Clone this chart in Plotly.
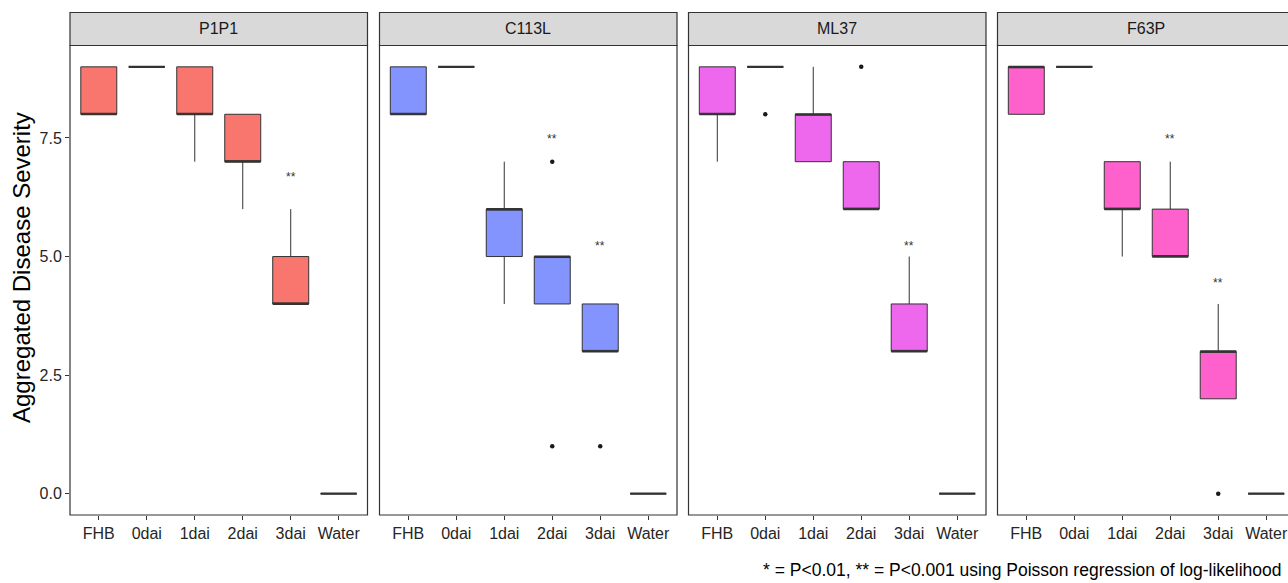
import plotly.graph_objects as go

# ---------------- data ----------------
groups = ["FHB", "0dai", "1dai", "2dai", "3dai", "Water"]
panels = ["P1P1", "C113L", "ML37", "F63P"]
colors = ["#F8766D", "#8494FF", "#ED68ED", "#FF61CC"]

p1p1_q1 = [8, 9, 8, 7, 4, 0]
p1p1_med = [8, 9, 8, 7, 4, 0]
p1p1_q3 = [9, 9, 9, 8, 5, 0]
p1p1_lo = [8, 9, 7, 6, 4, 0]
p1p1_hi = [9, 9, 9, 8, 6, 0]
p1p1_out_x = []
p1p1_out_y = []

c113l_q1 = [8, 9, 5, 4, 3, 0]
c113l_med = [8, 9, 6, 5, 3, 0]
c113l_q3 = [9, 9, 6, 5, 4, 0]
c113l_lo = [8, 9, 4, 4, 3, 0]
c113l_hi = [9, 9, 7, 5, 4, 0]
c113l_out_x = ["2dai", "2dai", "3dai"]
c113l_out_y = [7, 1, 1]

ml37_q1 = [8, 9, 7, 6, 3, 0]
ml37_med = [8, 9, 8, 6, 3, 0]
ml37_q3 = [9, 9, 8, 7, 4, 0]
ml37_lo = [7, 9, 7, 6, 3, 0]
ml37_hi = [9, 9, 9, 7, 5, 0]
ml37_out_x = ["0dai", "2dai"]
ml37_out_y = [8, 9]

f63p_q1 = [8, 9, 6, 5, 2, 0]
f63p_med = [9, 9, 6, 5, 3, 0]
f63p_q3 = [9, 9, 7, 6, 3, 0]
f63p_lo = [8, 9, 5, 5, 2, 0]
f63p_hi = [9, 9, 7, 7, 4, 0]
f63p_out_x = ["3dai"]
f63p_out_y = [0]

# significance labels (panel, group, y position)
sig_panel = ["P1P1", "C113L", "C113L", "ML37", "F63P", "F63P"]
sig_group = ["3dai", "2dai", "3dai", "3dai", "2dai", "3dai"]
sig_y = [6.68, 7.48, 5.23, 5.23, 7.48, 4.44]
sig_text = "**"

caption = "* = P<0.01, ** = P<0.001 using Poisson regression of log-likelihood"
y_title = "Aggregated Disease Severity"
y_ticks = [0, 2.5, 5, 7.5]
y_ticktext = ["0.0", "2.5", "5.0", "7.5"]

stats = [
    (p1p1_q1, p1p1_med, p1p1_q3, p1p1_lo, p1p1_hi, p1p1_out_x, p1p1_out_y),
    (c113l_q1, c113l_med, c113l_q3, c113l_lo, c113l_hi, c113l_out_x, c113l_out_y),
    (ml37_q1, ml37_med, ml37_q3, ml37_lo, ml37_hi, ml37_out_x, ml37_out_y),
    (f63p_q1, f63p_med, f63p_q3, f63p_lo, f63p_hi, f63p_out_x, f63p_out_y),
]

# ---------------- layout geometry ----------------
W, H = 1288, 583
panel_left = [70, 379.5, 688.5, 997.5]
panel_w = 297.5
top_px, bot_px = 45.5, 515
strip_top = 12.5
unit_px = panel_w / 6.2
yr = [-0.45, 9.45]

pos = {g: i + 1 for i, g in enumerate(groups)}

fig = go.Figure()
shapes = []
annotations = []
FONT = "Liberation Sans, Arial, sans-serif"
DARK = "#333333"

for k, name in enumerate(panels):
    q1, med, q3, lo, hi, ox, oy = stats[k]
    sfx = "" if k == 0 else str(k + 1)
    xa, ya = "x" + sfx, "y" + sfx
    xs = [pos[g] for g in groups]
    fig.add_trace(go.Box(
        x=xs, q1=q1, median=med, q3=q3, lowerfence=lo, upperfence=hi,
        fillcolor=colors[k], line=dict(color=DARK, width=1),
        whiskerwidth=0, width=0.75, boxpoints=False, hoverinfo="skip",
        xaxis=xa, yaxis=ya, showlegend=False,
    ))
    # thicker median lines (ggplot fatten)
    mx, my = [], []
    for xi, m in zip(xs, med):
        mx += [xi - 0.375, xi + 0.375, None]
        my += [m, m, None]
    fig.add_trace(go.Scatter(
        x=mx, y=my, mode="lines", line=dict(color=DARK, width=2.2),
        xaxis=xa, yaxis=ya, showlegend=False, hoverinfo="skip",
    ))
    if ox:
        fig.add_trace(go.Scatter(
            x=[pos[g] for g in ox], y=oy, mode="markers",
            marker=dict(color="#1A1A1A", size=4.5),
            xaxis=xa, yaxis=ya, showlegend=False, hoverinfo="skip",
        ))

    left = panel_left[k]
    right = left + panel_w
    d0 = left / W
    d1 = min(right / W, 1.0)
    xmax = 0.4 + (d1 * W - left) / unit_px
    ydom = [(H - bot_px) / H, (H - top_px) / H]
    xaxis_kw = dict(
        domain=[d0, d1], range=[0.4, xmax], tickvals=[pos[g] for g in groups],
        ticktext=groups, ticks="outside", ticklen=4, tickwidth=1, tickcolor=DARK,
        showgrid=False, zeroline=False, showline=False, anchor=ya,
        tickfont=dict(family=FONT, size=16, color="#262626"), automargin=False,
        fixedrange=True,
    )
    yaxis_kw = dict(
        domain=ydom, range=yr, showgrid=False, zeroline=False, showline=False,
        anchor=xa, automargin=False, fixedrange=True,
    )
    if k == 0:
        yaxis_kw.update(tickvals=y_ticks, ticktext=y_ticktext, ticks="outside",
                        ticklen=4, tickwidth=1, tickcolor=DARK,
                        tickfont=dict(family=FONT, size=16, color="#262626"))
    else:
        yaxis_kw.update(showticklabels=False, ticks="")
    fig.update_layout(**{"xaxis" + sfx: xaxis_kw, "yaxis" + sfx: yaxis_kw})

    # panel border
    shapes.append(dict(type="rect", xref="paper", yref="paper",
                       x0=left / W, x1=right / W, y0=(H - bot_px) / H, y1=(H - top_px) / H,
                       line=dict(color=DARK, width=1.2), fillcolor="rgba(0,0,0,0)", layer="above"))
    # strip
    shapes.append(dict(type="rect", xref="paper", yref="paper",
                       x0=left / W, x1=right / W, y0=(H - top_px) / H, y1=(H - strip_top) / H,
                       line=dict(color=DARK, width=1.2), fillcolor="#D9D9D9", layer="below"))
    annotations.append(dict(text=name, xref="paper", yref="paper",
                            x=(left + panel_w / 2) / W, y=(H - (strip_top + top_px) / 2) / H,
                            xanchor="center", yanchor="middle", showarrow=False,
                            font=dict(family=FONT, size=16, color="#1A1A1A")))

# significance annotations
for p, g, yv in zip(sig_panel, sig_group, sig_y):
    k = panels.index(p)
    sfx = "" if k == 0 else str(k + 1)
    annotations.append(dict(text=sig_text, xref="x" + sfx, yref="y" + sfx, x=pos[g], y=yv,
                            xanchor="center", yanchor="middle", showarrow=False,
                            font=dict(family=FONT, size=12, color=DARK)))

annotations.append(dict(text=y_title, xref="paper", yref="paper", x=21 / W,
                        y=(H - 268) / H, textangle=-90,
                        xanchor="center", yanchor="middle", showarrow=False,
                        font=dict(family=FONT, size=24, color="#000000")))
annotations.append(dict(text=caption, xref="paper", yref="paper", x=1284 / W,
                        y=(H - 570) / H, xanchor="right", yanchor="middle", showarrow=False,
                        font=dict(family=FONT, size=17.5, color="#000000")))

fig.update_layout(
    width=W, height=H, autosize=False,
    margin=dict(l=0, r=0, t=0, b=0),
    paper_bgcolor="white", plot_bgcolor="white",
    shapes=shapes, annotations=annotations, showlegend=False,
)

fig.write_html("out.html", config={"displayModeBar": False})
